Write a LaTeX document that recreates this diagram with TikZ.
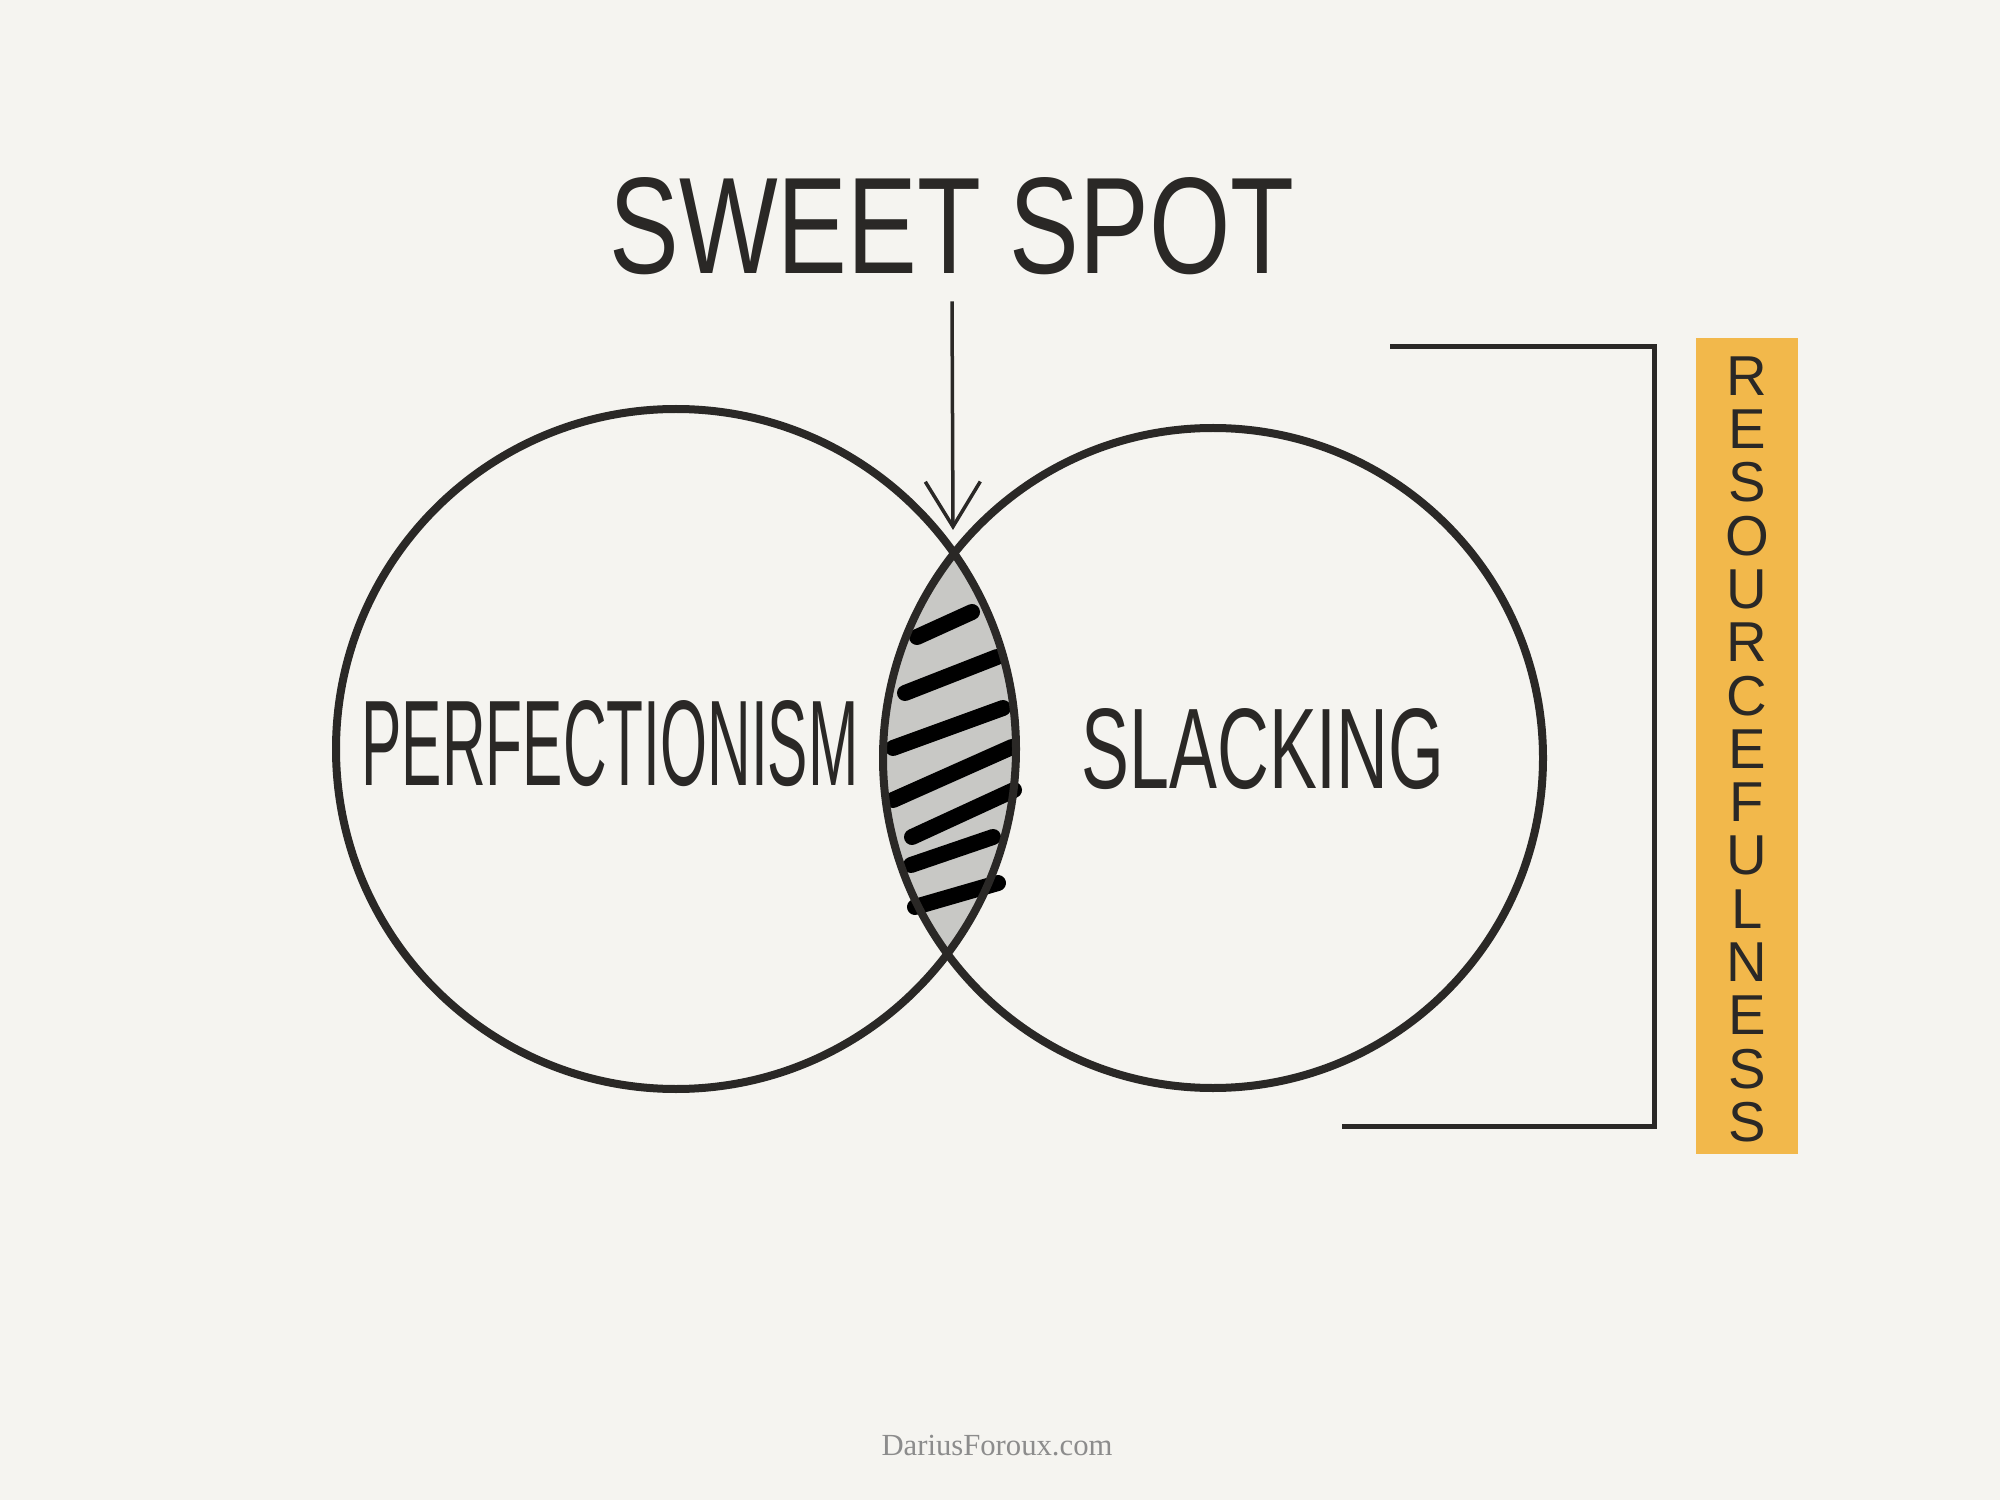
\documentclass[tikz,border=0pt]{standalone}
\usepackage{fontspec}
\usepackage{graphicx}
\setmainfont{Liberation Serif}
\newfontfamily\handfont{Liberation Sans}
\usetikzlibrary{arrows.meta}
\definecolor{paper}{HTML}{F5F4F0}
\definecolor{ink}{HTML}{2A2826}
\definecolor{lensgray}{HTML}{C8C8C5}
\definecolor{marker}{HTML}{F2B84B}
\definecolor{footgray}{HTML}{8C8C8C}
\begin{document}
\begin{tikzpicture}

      \tikzset{ring/.style={draw=ink, line width=0.08cm},
               stripe/.style={draw=black, line width=0.16cm, line cap=round},
               bracket/.style={draw=ink, line width=0.05cm},
               pointer/.style={draw=ink, line width=0.035cm, -{Straight Barb[length=4.5mm, width=5.5mm]}},
               hand/.style={inner sep=0pt, text=ink, font=\handfont}}
% Background
	\useasboundingbox[fill=paper] (0,0) rectangle (20,15);
% Circles
	\coordinate (pc) at (6.76,7.51);
	\coordinate (sc) at (12.13,7.42);
	%Lens
	\begin{scope}
		\clip (pc) circle (3.40);
		\fill[lensgray] (sc) circle (3.30);
	\end{scope}
	%Stripes
	\draw[stripe] (9.17,8.63) -- (9.72,8.88);
	\draw[stripe] (9.05,8.07) -- (9.97,8.43);
	\draw[stripe] (8.93,7.52) -- (10.03,7.92);
	\draw[stripe] (8.93,7.00) -- (10.12,7.53);
	\draw[stripe] (9.12,6.63) -- (10.14,7.10);
	\draw[stripe] (9.11,6.35) -- (9.93,6.63);
	\draw[stripe] (9.15,5.93) -- (9.98,6.17);
	%Rings
	\draw[ring] (pc) circle (3.40);
	\draw[ring] (sc) circle (3.30);
% Labels
	\node[hand] (sweet) at (9.52,12.74) {\resizebox{6.85cm}{0.96cm}{SWEET SPOT}};
	\node[hand] (perf) at (6.10,7.56) {\resizebox{4.97cm}{0.85cm}{PERFECTIONISM}};
	\node[hand] (slack) at (12.63,7.51) {\resizebox{3.63cm}{0.80cm}{SLACKING}};
% Arrow
	\coordinate (tip) at (9.53,9.70);
	\draw[pointer] ([yshift=-0.26cm]sweet.south) -- (tip);
% Bracket
	\coordinate (bt) at (13.90,11.53);
	\coordinate (btr) at (16.54,11.53);
	\coordinate (bbr) at (16.54,3.74);
	\coordinate (bb) at (13.42,3.74);
	\draw[bracket] (bt) -- (btr) -- (bbr) -- (bb);
% Marker
	\fill[marker] (16.96,3.46) rectangle (17.98,11.62);
	\foreach \ch [count=\i] in {R,E,S,O,U,R,C,E,F,U,L,N,E,S,S}
		\node[hand, font=\handfont\fontsize{16}{16}\selectfont] (r\i) at (17.47,11.24-0.533*\i+0.533) {\ch};
% Footer
	\node[inner sep=0pt, text=footgray] (foot) at (9.97,0.54) {\resizebox{2.31cm}{!}{DariusForoux.com}};

	\end{tikzpicture}
\end{document}
